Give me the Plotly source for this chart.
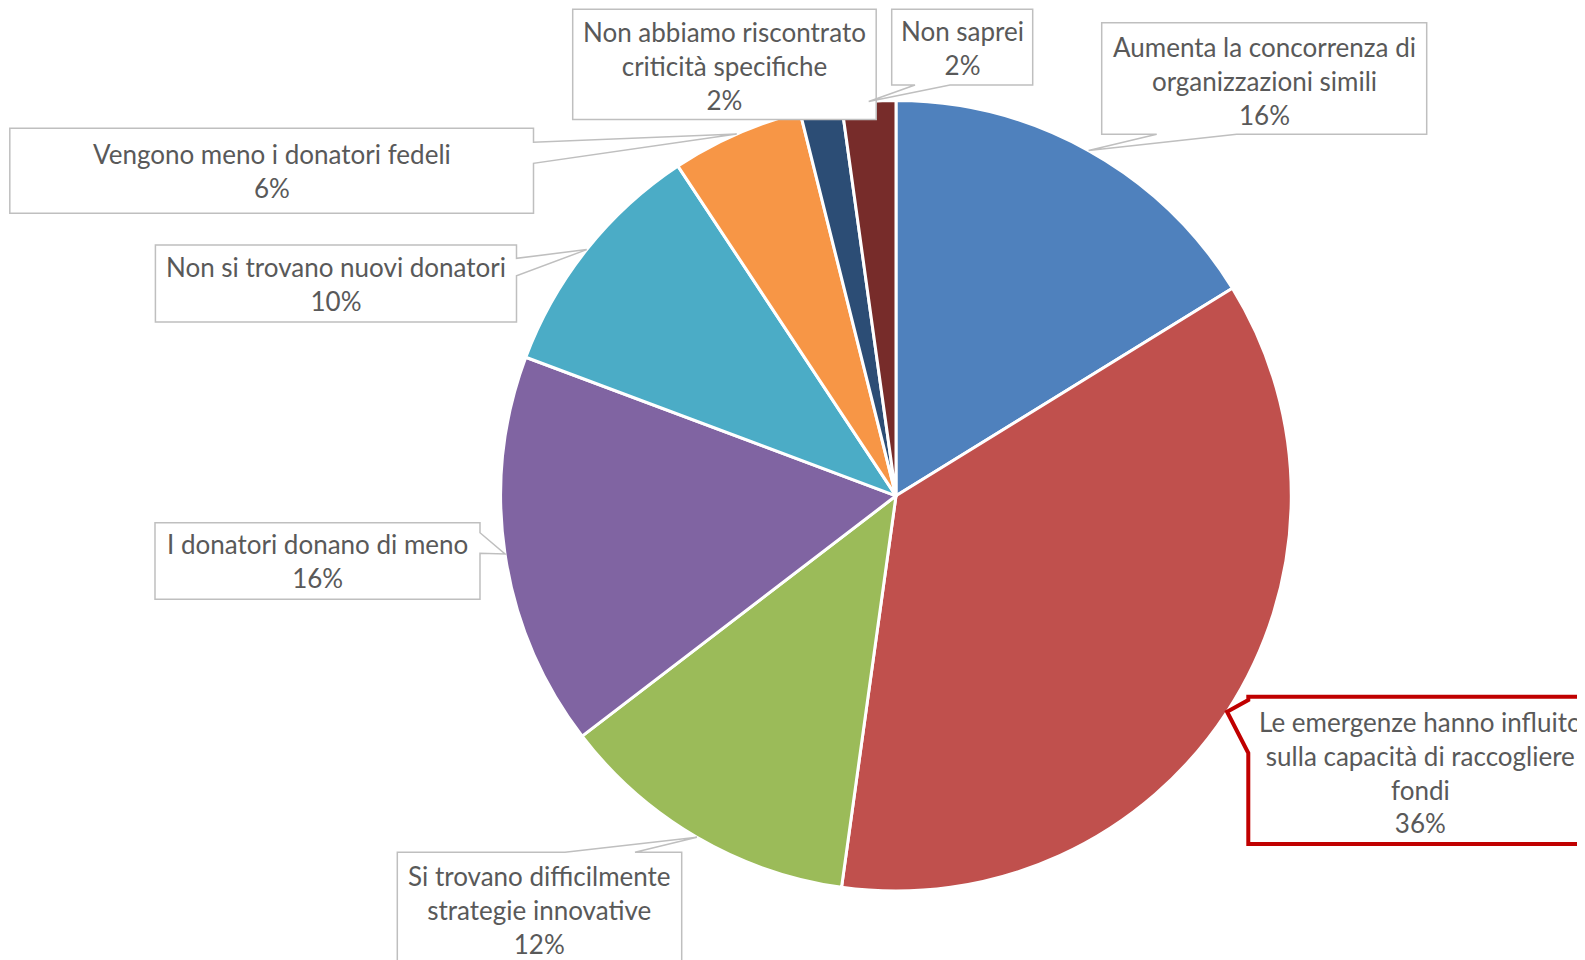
import math
import plotly.graph_objects as go

# data
labels = [
    "Aumenta la concorrenza di<br>organizzazioni simili",
    "Le emergenze hanno influito<br>sulla capacità di raccogliere<br>fondi",
    "Si trovano difficilmente<br>strategie innovative",
    "I donatori donano di meno",
    "Non si trovano nuovi donatori",
    "Vengono meno i donatori fedeli",
    "Non abbiamo riscontrato<br>criticità specifiche",
    "Non saprei",
]
values = [16.2, 36.0, 12.4, 16.1, 10.0, 5.4, 1.7, 2.2]
pct_labels = ["16%", "36%", "12%", "16%", "10%", "6%", "2%", "2%"]
colors = ["#4F81BD", "#C0504D", "#9BBB59", "#8064A2", "#4BACC6", "#F79646", "#2C4D75", "#772C2A"]

W, H = 1585, 960
OFF = 8  # page body margin
CX, CY, R = 896, 495.8, 395.3

# label boxes (pixels): x0, y0, x1, y1, wedge side, wedge base a, b
boxes = [
    (1101.7, 22.7, 1426.7, 134.3, "bottom", 1156.7, 1236.7),
    (1248.3, 696.7, 1620, 844, "left", 700, 753),
    (397.3, 852.3, 681.7, 985, "top", 565, 635),
    (155, 522.7, 480, 599.3, "right", 532.7, 553.3),
    (155.4, 245, 516.5, 322, "right", 258.3, 275.7),
    (9.8, 128.3, 533.5, 213.3, "right", 142.3, 163.3),
    (572.7, 9.3, 876.2, 119.5, None, 0, 0),
    (891.7, 9.3, 1032.7, 85, "bottom", 915, 950),
]
text_pos = [(1264, 80.5), (1420, 772), (539.5, 910), (317.5, 561),
            (336, 283.5), (271.7, 170.8), (724.5, 65.5), (962.2, 48)]


def px(x):
    return (x - OFF) / W


def py(y):
    return 1 - (y - OFF) / H


fig = go.Figure()
fig.add_trace(go.Pie(
    labels=[l.replace("<br>", " ") for l in labels],
    values=values,
    sort=False,
    direction="clockwise",
    rotation=0,
    marker=dict(colors=colors, line=dict(color="white", width=3)),
    textinfo="none",
    hoverinfo="label+percent",
    showlegend=False,
    domain=dict(x=[px(CX - R), px(CX + R)], y=[py(CY + R), py(CY - R)]),
))

# callout tips at the middle of each slice, on the rim
total = sum(values)
cum = 0
tips = []
for v in values:
    mid = (cum + v / 2) / total * 2 * math.pi
    tips.append((CX + R * math.sin(mid), CY - R * math.cos(mid)))
    cum += v

shapes = []
for i, (x0, y0, x1, y1, side, a, b) in enumerate(boxes):
    tx, ty = tips[i]
    pts = [(x0, y0)]
    if side == "top":
        pts += [(a, y0), (tx, ty), (b, y0)]
    pts.append((x1, y0))
    if side == "right":
        pts += [(x1, a), (tx, ty), (x1, b)]
    pts.append((x1, y1))
    if side == "bottom":
        pts += [(b, y1), (tx, ty), (a, y1)]
    pts.append((x0, y1))
    if side == "left":
        pts += [(x0, b), (tx, ty), (x0, a)]
    path = "M " + " L ".join("%.5f,%.5f" % (px(x), py(y)) for x, y in pts) + " Z"
    red = i == 1
    shapes.append(dict(
        type="path", path=path, xref="paper", yref="paper", layer="above",
        fillcolor="white",
        line=dict(color="#C00000" if red else "#BFBFBF", width=4 if red else 1.5),
    ))

annotations = []
for i, lab in enumerate(labels):
    x, y = text_pos[i]
    annotations.append(dict(
        x=px(x), y=py(y), xref="paper", yref="paper",
        text=lab + "<br>" + pct_labels[i],
        showarrow=False, xanchor="center", yanchor="middle", align="center",
        font=dict(family="Lato", size=26, color="#595959"),
    ))

fig.update_layout(
    width=W, height=H,
    margin=dict(l=0, r=0, t=0, b=0),
    paper_bgcolor="white",
    plot_bgcolor="white",
    shapes=shapes,
    annotations=annotations,
)

fig.write_html("out.html")
